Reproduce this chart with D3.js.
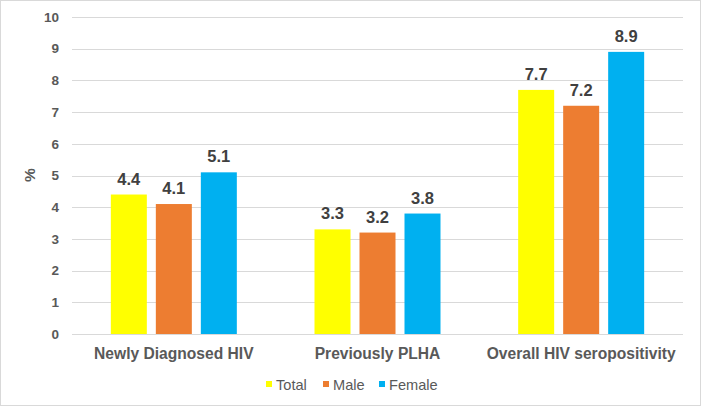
<!DOCTYPE html>
<html><head><meta charset="utf-8">
<script src="https://cdn.jsdelivr.net/npm/d3@7"></script>
<style>body{margin:0;background:#fff}svg{display:block}text{font-family:"Liberation Sans",Arial,sans-serif}</style>
</head><body><svg id="c" width="701" height="406"></svg>
<script>
const categories = ["Newly Diagnosed HIV", "Previously PLHA", "Overall HIV seropositivity"];
const seriesNames = ["Total", "Male", "Female"];
const totalVals = [4.4, 3.3, 7.7];
const maleVals = [4.1, 3.2, 7.2];
const femaleVals = [5.1, 3.8, 8.9];
const yTicks = [0,1,2,3,4,5,6,7,8,9,10];
const colors = ["#FFFF00", "#ED7D31", "#00B0F0"];
const series = [totalVals, maleVals, femaleVals];

const svg = d3.select("#c");
svg.append("rect").attr("x",0.5).attr("y",0.5).attr("width",700).attr("height",405)
  .attr("fill","#fff").attr("stroke","#d9d9d9");

const m = {l:72, r:683, t:17, b:334};
const x = d3.scaleBand().domain(categories).range([m.l, m.r]);
const y = d3.scaleLinear().domain([0,10]).range([m.b, m.t]);
const inner = d3.scaleBand().domain(seriesNames).range([0, 126]).paddingInner(0.2);

// gridlines
svg.append("g").selectAll("line").data(yTicks).join("line")
  .attr("x1", m.l).attr("x2", m.r)
  .attr("y1", d=>Math.round(y(d))+0.5).attr("y2", d=>Math.round(y(d))+0.5)
  .attr("stroke","#d9d9d9").attr("stroke-width",1);

// y tick labels
svg.append("g").selectAll("text").data(yTicks).join("text")
  .attr("x", 59).attr("y", d=>y(d)).attr("dy","0.35em")
  .attr("text-anchor","end").attr("font-size",13.5).attr("font-weight","bold")
  .attr("fill","#595959").text(d=>d);

// y label
svg.append("text").attr("transform","translate(35,175) rotate(-90)")
  .attr("text-anchor","middle").attr("font-size",15.5).attr("font-weight","bold")
  .attr("fill","#595959").text("%");

// bars
series.forEach((vals, si) => {
  const g = svg.append("g");
  g.selectAll("rect").data(vals).join("rect")
    .attr("x", (d,i)=> x(categories[i]) + x.bandwidth()/2 - 63 + inner(seriesNames[si]))
    .attr("width", inner.bandwidth())
    .attr("y", d=>y(d)).attr("height", d=>y(0)-y(d))
    .attr("fill", colors[si]);
  g.selectAll("text").data(vals).join("text")
    .attr("x", (d,i)=> x(categories[i]) + x.bandwidth()/2 - 63 + inner(seriesNames[si]) + inner.bandwidth()/2)
    .attr("y", d=>y(d)-10)
    .attr("text-anchor","middle").attr("font-size",16.5).attr("font-weight","bold")
    .attr("fill","#404040").text(d=>d.toFixed(1));
});

// category labels
svg.append("g").selectAll("text").data(categories).join("text")
  .attr("x", d=>x(d)+x.bandwidth()/2).attr("y", 359)
  .attr("text-anchor","middle").attr("font-size",15.6).attr("font-weight","bold")
  .attr("fill","#595959").text(d=>d);

// legend
const legX = [266, 323, 379];
const lg = svg.append("g");
seriesNames.forEach((n,i)=>{
  lg.append("rect").attr("x",legX[i]).attr("y",381).attr("width",6).attr("height",6).attr("fill",colors[i]);
  lg.append("text").attr("x",legX[i]+10).attr("y",385).attr("dy","0.35em")
    .attr("font-size",14.6).attr("fill","#595959").text(n);
});
</script></body></html>
